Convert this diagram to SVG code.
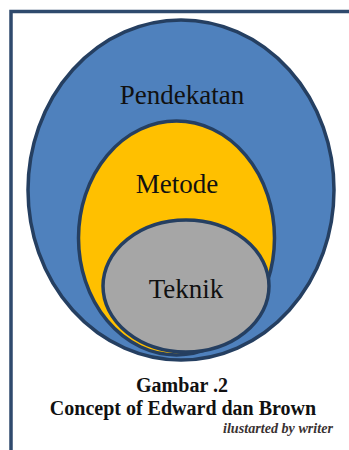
<svg xmlns="http://www.w3.org/2000/svg" width="349" height="450" viewBox="0 0 349 450">
<style>
.e{stroke:#253f61;stroke-width:3.5}
.t{font-family:"Liberation Serif","Times New Roman",serif;font-size:27px;fill:#111;text-anchor:middle}
.c{font-family:"Liberation Serif","Times New Roman",serif;font-size:20px;font-weight:bold;fill:#111;text-anchor:middle}
.s{font-family:"Liberation Serif","Times New Roman",serif;font-style:italic;font-weight:bold;font-size:14px;fill:#3a3232;text-anchor:end}
</style>
<rect width="349" height="450" fill="#fff"/>
<g id="frame" fill="none" stroke="#2f4a6d" stroke-width="3.5">
<path d="M11 450 V11.5 H349"/>
</g>
<g id="pendekatan">
<ellipse class="e" cx="181" cy="190" rx="153" ry="170" fill="#4f81bd"/>
<text class="t" x="182" y="104">Pendekatan</text>
</g>
<g id="metode">
<ellipse class="e" cx="176.5" cy="238" rx="98" ry="117" fill="#ffc000"/>
<text class="t" x="177" y="193">Metode</text>
</g>
<g id="teknik">
<ellipse class="e" cx="186" cy="286" rx="83" ry="66" fill="#a6a6a6"/>
<text class="t" x="186" y="298">Teknik</text>
</g>
<g id="connectors"/>
<g id="caption">
<text class="c" x="182" y="392">Gambar .2</text>
<text class="c" x="183" y="415">Concept of Edward dan Brown</text>
<text class="s" x="333" y="433" textLength="110" lengthAdjust="spacingAndGlyphs">ilustarted by writer</text>
</g>
</svg>
